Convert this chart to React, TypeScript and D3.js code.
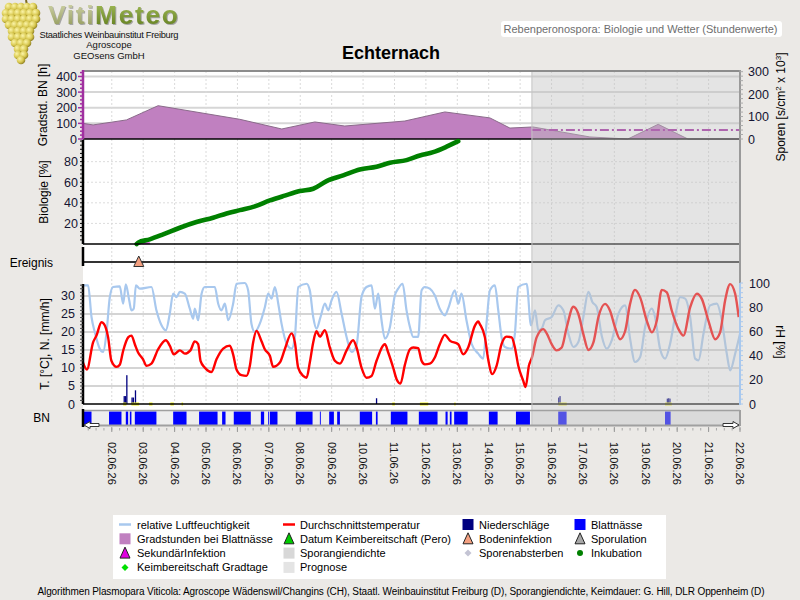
import React from 'react';
import * as d3 from 'd3';

// all series are keyed by hours since 01.06.26 00:00
const gradstunden: [number, number][] = [
  [2, 100], [9.7, 90], [35.2, 122], [59.4, 213], [121.8, 126], [153.9, 64], [179.1, 109],
  [202, 83], [247.9, 115], [278.5, 173], [312.9, 135], [328.2, 70], [345.8, 77],
  [389.3, 13], [418.3, 0], [441.5, 94], [464.2, 0], [504, 0]
];

const sporangienDichte: [number, number][] = [[345, 40], [504, 40]];

const inkubation: [number, number][] = [
  [43, 0], [44.1, 1.3], [53, 4.5], [63.2, 9.3], [76, 15.8], [88.7, 21.3], [101.4, 25.5],
  [111.7, 29.7], [121.8, 32.9], [133.3, 36.5], [144.8, 42.3], [156.2, 47], [167.7, 51.4],
  [177.9, 53.7], [188.1, 61.1], [200.8, 66.6], [213.5, 72.4], [226.3, 75], [236.5, 78.9],
  [249.2, 81.5], [259.4, 86], [269.6, 89.2], [279.8, 94.5], [288.7, 99.9]
];

const sekundaerInfektion: [number, number][] = [[43, 0.7], [53, 0.7]];

const bodeninfektion = [44.6];

const temperatur: [number, number][] = [
  [2, 11.5], [5, 9.6], [9.7, 17.1], [12.3, 19], [16.1, 22.7], [17.9, 22.3], [21.2, 18.5],
  [23.7, 12], [27.6, 10.3], [30.1, 10.9], [32.7, 14.8], [36.5, 18.5], [39, 19], [41.6, 16.6],
  [44.1, 14.3], [47.9, 12.4], [50.5, 10.6], [54.3, 11.2], [59.4, 15.2], [65.3, 17.7],
  [68.3, 16.2], [71.4, 13.8], [76, 14.9], [79.8, 14], [84.1, 14.9], [87.4, 17.4], [90, 16.6],
  [91.8, 12], [95.1, 10.1], [100.2, 8.9], [104, 12.4], [109.1, 15.4], [114.2, 16.2],
  [116.7, 13.8], [119.3, 9.6], [123.1, 8], [126.9, 7.8], [129.5, 10.6], [132, 17.1],
  [134.6, 20.3], [138.4, 17.4], [140.9, 15.2], [144.8, 13.4], [147.3, 10.3], [152.4, 11.5],
  [156.2, 15.2], [161.3, 19.6], [163.9, 17.1], [166.4, 10.1], [170.2, 7.8], [172.8, 7.3],
  [175.3, 11.5], [177.9, 17.1], [180.4, 20.2], [183, 18.7], [186.8, 20.5], [190.6, 15.7],
  [194.4, 12], [198.3, 11.2], [203.4, 14.9], [208.4, 17.7], [211, 15.7], [214.8, 10.1],
  [218.6, 7.3], [222.5, 7.8], [226.3, 12], [232.7, 16.6], [235.2, 14.3], [239, 10.1],
  [241.6, 6.9], [244.6, 5.7], [247.9, 10.8], [251.8, 15.2], [254.3, 15.7], [258.1, 15.5],
  [260.7, 12], [263.2, 11], [267, 11.2], [270.8, 12.9], [274.6, 16.6], [278.5, 19.2],
  [282.3, 17.6], [288.7, 16.6], [292.5, 13.8], [296.3, 15.7], [301.4, 21.7], [304, 22.9],
  [305.2, 22.2], [309.1, 18.5], [311.6, 12.4], [314.7, 8.3], [318, 10.6], [321.8, 16.6],
  [325.6, 18.7], [329.5, 18.5], [332, 15.7], [334.6, 10.6], [338.4, 6.4], [340.2, 4.7],
  [342.7, 10.6], [345, 12.9], [348.6, 18.5], [353.7, 20.8], [356.3, 19.6], [360.1, 16.6],
  [363.9, 14.9], [367.8, 15.7], [371.6, 21.3], [376.7, 27], [380.5, 25], [384.3, 19.4],
  [388.2, 15], [392, 17.1], [395.8, 24.1], [400.9, 27.8], [404.7, 25.9], [408.5, 21.3],
  [412.4, 18], [416.2, 20.2], [420, 27.8], [423.8, 31.7], [427.7, 29.6], [432.8, 23.1],
  [436.6, 19.9], [440.4, 23.1], [444.2, 31.7], [448.1, 31], [451.9, 25.9], [457, 20.8],
  [460.8, 19], [465.9, 26.8], [471, 30.6], [474.8, 29.2], [479.9, 23.1], [485, 18],
  [488.8, 19.9], [492.6, 28.7], [496.5, 33.3], [500.3, 30.6], [503, 24.1]
];

const feuchte: [number, number][] = [
  [2, 98.1], [5.9, 98], [8.5, 71.9], [11, 59.5], [14.8, 45.7], [17.4, 43], [19.9, 58.1],
  [22.5, 88.4], [25, 96.7], [30.1, 97.2], [32.7, 82.9], [34.7, 98.9], [37.3, 85.7], [39, 77.4],
  [40.8, 78.8], [42.4, 98.1], [45.4, 95.3], [54.3, 96.7], [58.1, 77.4], [62, 65], [65.3, 60.9],
  [68.3, 74.6], [70.9, 91.2], [73.5, 88.4], [76, 92.6], [79.8, 91.2], [83.6, 78.8], [86.2, 70.5],
  [87.4, 78.8], [90, 69.2], [92.6, 91.2], [95.1, 96.7], [102.7, 96.7], [105.3, 82.9],
  [107.8, 77.4], [110.4, 82.9], [113, 69.2], [116.7, 82.9], [119.3, 99.4], [125.6, 100],
  [128.2, 93.9], [130.7, 66.4], [133.3, 59.5], [137.1, 66.4], [141, 80.2], [143.5, 91.2],
  [146.1, 87.1], [148.6, 96.7], [151.2, 82.9], [153.7, 66.4], [157.6, 49.8], [161.4, 45.7],
  [163.9, 55.4], [166.5, 96.7], [172.8, 99.4], [175.3, 93.9], [177.9, 71.9], [180.4, 62.3],
  [183.5, 71.9], [186.8, 82.9], [189.4, 77.4], [191.9, 85.7], [195.7, 92.6], [199.6, 74.6],
  [203.4, 55.4], [207.2, 43], [211, 48.5], [214.8, 88.4], [218.6, 96.7], [222.5, 98.1],
  [225, 78.8], [227.6, 91.2], [230.1, 69.2], [232.7, 54], [236.5, 63.4], [240.3, 89.8],
  [242.8, 95.3], [246.2, 99.4], [249.2, 77.4], [251.8, 63.6], [254.3, 55.4], [258.1, 55.4],
  [260.7, 93.9], [263.2, 96.7], [267, 95.3], [270.8, 89.8], [274.6, 78.8], [278.5, 73.3],
  [281, 78.8], [286.1, 93.9], [288.7, 82.9], [291.2, 91.2], [295, 69.2], [298.9, 49.8],
  [304, 41.6], [307.8, 37.5], [310.3, 66.4], [312.9, 93.9], [316.7, 98.1], [319.3, 77.4],
  [321.8, 55.4], [324.4, 47.1], [329.5, 45.7], [332, 58.1], [334.6, 96.7], [341, 99.4],
  [344.3, 65], [347.4, 77.4], [349.9, 60.9], [352.5, 62.3], [355, 69.2], [360.1, 71.9],
  [365.2, 81.5], [369, 77.4], [372.9, 58.1], [376.7, 47.1], [380.5, 51.2], [384.3, 71.9],
  [388.2, 92.6], [391.2, 84.3], [394.5, 80.2], [398.3, 56.7], [402.2, 45.7], [406, 52.6],
  [411.1, 74.6], [416.2, 81.5], [420, 54], [423.8, 34.7], [427.7, 38.8], [431.5, 63.6],
  [436.6, 78.8], [439.1, 71.9], [442.9, 45.7], [446.8, 37.5], [450.6, 49.8], [454.4, 71.9],
  [458.3, 88.4], [462.1, 87.1], [465.9, 71.9], [469.7, 37.5], [472.3, 36.1], [476.1, 58.1],
  [481.2, 81.5], [486.3, 82.9], [489.6, 71.9], [493.9, 41.6], [496.5, 27.8], [500.3, 41.6],
  [504, 58.1]
];

// [hour, mm/h]
const niederschlag: [number, number][] = [
  [33, 2.2], [34, 2.2], [35, 8], [39, 1.8], [40, 1.8], [41.6, 3.8], [225.8, 1.6],
  [365, 1.8], [366, 2.2], [448, 1.5], [449, 1.6], [450, 1.5]
];

// [from hour, to hour]
const sporenMarken: [number, number][] = [
  [32.7, 35.2], [39, 44.9], [52.5, 55.1], [68.8, 71.4], [77.3, 78.5], [238.3, 240.3],
  [259.4, 265.8], [285.7, 286.7], [365.2, 371.6], [446.7, 451.9]
];

const blattnaesse: [number, number][] = [
  [2, 8.5], [21.9, 31.4], [34.7, 36.5], [37.8, 39], [41.6, 58.1], [70.9, 81.1], [90.7, 104.8],
  [108.3, 110.9], [117.2, 130.2], [137.9, 140.4], [143.5, 144.2], [144.8, 150.6],
  [164.6, 177.4], [183, 183.7], [190.1, 193.7], [196.2, 198.3], [213.5, 222.9],
  [225.8, 227.1], [237.2, 249.9], [258.6, 272.9], [279, 280.6], [282.3, 283.6],
  [285.6, 295.9], [312.1, 318.8], [332.8, 343.5], [365.1, 371.5], [446.7, 451]
];

const prognoseAb = 345;

const gradTicks = [0, 100, 200, 300, 400];
const sporTicks = [0, 100, 200, 300];
const bioTicks = [20, 40, 60, 80];
const tempTicks = [0, 5, 10, 15, 20, 25, 30];
const rhTicks = [0, 20, 40, 60, 80, 100];

const legendItems = [
  { label: 'relative Luftfeuchtigkeit', kind: 'line', color: '#a8c8ee' },
  { label: 'Durchschnittstemperatur', kind: 'line', color: '#ff0000' },
  { label: 'Niederschläge', kind: 'square', color: '#000080' },
  { label: 'Blattnässe', kind: 'square', color: '#0000ff' },
  { label: 'Gradstunden bei Blattnässe', kind: 'square', color: '#c080c0' },
  { label: 'Datum Keimbereitschaft (Pero)', kind: 'tri', color: '#00cc00' },
  { label: 'Bodeninfektion', kind: 'tri', color: '#f4a080' },
  { label: 'Sporulation', kind: 'tri', color: '#a8a8a8' },
  { label: 'SekundärInfektion', kind: 'tri', color: '#e000e0' },
  { label: 'Sporangiendichte', kind: 'square', color: '#d8d8d8' },
  { label: 'Sporenabsterben', kind: 'diamond', color: '#c4c4d4' },
  { label: 'Inkubation', kind: 'dot', color: '#008000' },
  { label: 'Keimbereitschaft Gradtage', kind: 'diamond', color: '#00e000' },
  { label: 'Prognose', kind: 'square', color: '#e4e4e4' }
];

const FONT = "'Liberation Sans', Arial, Helvetica, sans-serif";
const BG = '#ebe9e6';

const base = new Date(2026, 5, 1, 0, 0, 0);
const at = (h: number) => new Date(+base + h * 3600e3);

const L = 83, R = 740;

export default function App() {
  const x = d3.scaleTime().domain([at(2), at(504)]).range([L, R]);
  const xh = (h: number) => x(at(h));

  const yGrad = d3.scaleLinear().domain([0, 435]).range([139, 71]);
  const ySpor = d3.scaleLinear().domain([0, 303]).range([139, 71]);
  const yBio = d3.scaleLinear().domain([0, 102]).range([244, 139]);
  const yT = d3.scaleLinear().domain([0, 33.6]).range([404, 283]);
  const yRH = d3.scaleLinear().domain([0, 100]).range([404, 283]);

  const days = d3.timeDay.range(at(24), at(505));
  const sixHours = d3.timeHour.every(6)!.range(at(3), at(505));
  const fmt = d3.timeFormat('%d.%m.%y');

  const gradArea = d3.area<[number, number]>()
    .x(d => xh(d[0])).y0(yGrad(0)).y1(d => yGrad(d[1]));
  const gradLine = d3.line<[number, number]>().x(d => xh(d[0])).y(d => yGrad(d[1]));
  const sporLine = d3.line<[number, number]>().x(d => xh(d[0])).y(d => ySpor(d[1]));
  const flatBio = d3.line<[number, number]>().x(d => xh(d[0])).y(d => yBio(d[1]));
  const bioLine = d3.line<[number, number]>()
    .x(d => xh(d[0])).y(d => yBio(d[1])).curve(d3.curveMonotoneX);
  const tLine = d3.line<[number, number]>()
    .x(d => xh(d[0])).y(d => yT(d[1])).curve(d3.curveMonotoneX);
  const rhLine = d3.line<[number, number]>()
    .x(d => xh(d[0])).y(d => yRH(d[1])).curve(d3.curveMonotoneX);

  const xp = xh(prognoseAb);

  const minor = (lo: number, hi: number, step: number) => d3.range(lo, hi + 1e-6, step);

  // grape cluster for the logo: [row y, first x, count]
  const grapeRows = [[7, 9, 5], [13, 6, 6], [19, 6, 6], [25, 9, 5], [31, 12, 4], [37, 12, 4], [43, 15, 3], [49, 18, 2], [55, 18, 2], [60, 21, 1]];
  const grapes: { cx: number; cy: number }[] = [];
  grapeRows.forEach(([cy, x0, n]) => {
    for (let i = 0; i < n; i++) grapes.push({ cx: x0 + i * 6, cy });
  });

  return (
    <svg width={800} height={600} style={{ position: 'absolute', left: 0, top: 0, fontFamily: FONT }}>
      <defs>
        <radialGradient id="grape" cx="0.35" cy="0.35" r="0.7">
          <stop offset="0" stopColor="#fbf4a8" />
          <stop offset="0.6" stopColor="#d8c850" />
          <stop offset="1" stopColor="#8c7c20" />
        </radialGradient>
        <linearGradient id="viti" x1="0" y1="0" x2="0" y2="1">
          <stop offset="0" stopColor="#d6d9b0" />
          <stop offset="1" stopColor="#8e9656" />
        </linearGradient>
        <linearGradient id="meteo" x1="0" y1="0" x2="0" y2="1">
          <stop offset="0" stopColor="#a9c25e" />
          <stop offset="1" stopColor="#5d7a1a" />
        </linearGradient>
        <filter id="logoShadow" x="-5%" y="-20%" width="110%" height="140%">
          <feDropShadow dx="1" dy="1" stdDeviation="0.6" floodColor="#777" floodOpacity="0.6" />
        </filter>
      </defs>
      <rect width={800} height={600} fill={BG} />

      {/* logo */}
      <path d="M26,0 L27,5" stroke="#7a6a20" strokeWidth={2} />
      {grapes.map((g, i) => (
        <circle key={i} cx={g.cx} cy={g.cy} r={4.3} fill="url(#grape)" />
      ))}
      <text x={48} y={23.5} fontSize={26.5} fontWeight="bold" textLength={130} filter="url(#logoShadow)">
        <tspan fill="url(#viti)">Viti</tspan>
        <tspan fill="url(#meteo)">Meteo</tspan>
      </text>
      <text x={109} y={37.5} fontSize={9.3} textAnchor="middle" textLength={139} fill="#111">Staatliches Weinbauinstitut Freiburg</text>
      <text x={109} y={48} fontSize={9.5} textAnchor="middle" fill="#111">Agroscope</text>
      <text x={109} y={58.5} fontSize={9.5} textAnchor="middle" fill="#111">GEOsens GmbH</text>

      <rect x={501} y={21} width={281} height={16} rx={3} fill="#fff" />
      <text x={503.5} y={32.5} fontSize={11} fill="#6e6e6e" textLength={274}>Rebenperonospora: Biologie und Wetter (Stundenwerte)</text>

      <text x={391} y={59} fontSize={18} fontWeight="bold" textAnchor="middle" fill="#000">Echternach</text>

      {/* plot backgrounds */}
      <rect x={L} y={71} width={R - L} height={340} fill="#fff" />
      <rect x={L} y={411} width={R - L} height={14} fill="#eeeeee" />

      {/* horizontal grids */}
      {gradTicks.slice(1).map(t => (
        <line key={'gg' + t} x1={L} x2={R} y1={yGrad(t)} y2={yGrad(t)} stroke="#d6d6d6" strokeWidth={2} />
      ))}
      {bioTicks.map(t => (
        <line key={'bg' + t} x1={L} x2={R} y1={yBio(t)} y2={yBio(t)} stroke="#dcdcdc" strokeDasharray="2,2" />
      ))}
      {tempTicks.slice(1).map(t => (
        <line key={'tg' + t} x1={L} x2={R} y1={yT(t)} y2={yT(t)} stroke="#d4d4d4" strokeWidth={2} />
      ))}
      {/* day grid */}
      {days.map(d => (
        <line key={'vg' + +d} x1={x(d)} x2={x(d)} y1={71} y2={404} stroke="#dadada" strokeDasharray="2,2" />
      ))}

      {/* Gradstunden panel */}
      <path d={gradArea(gradstunden)!} fill="#c080c0" />
      <path d={gradLine(gradstunden)!} fill="none" stroke="#8a6a8a" strokeWidth={1} />
      <path d={sporLine(sporangienDichte)!} fill="none" stroke="#a020a0" strokeWidth={2} strokeDasharray="9,3,2,3" />
      <line x1={L} x2={R} y1={139} y2={139} stroke="#000" strokeWidth={1.5} />

      {/* Biologie panel */}
      <path d={flatBio(sekundaerInfektion)!} fill="none" stroke="#e040e0" strokeWidth={2} />
      <path d={bioLine(inkubation)!} fill="none" stroke="#008000" strokeWidth={4.6} strokeLinecap="round" />
      <line x1={L} x2={R} y1={244} y2={244} stroke="#000" strokeWidth={1.5} />

      {/* Ereignis */}
      <line x1={L} x2={R} y1={262} y2={262} stroke="#333" strokeWidth={2} />
      {bodeninfektion.map(h => (
        <path key={h} d={`M${xh(h)},256 L${xh(h) + 5},266.5 L${xh(h) - 5},266.5 Z`} fill="#f4a080" stroke="#333" strokeWidth={1} />
      ))}

      {/* weather panel */}
      <path d={rhLine(feuchte)!} fill="none" stroke="#a8c8ee" strokeWidth={2.2} />
      <path d={tLine(temperatur)!} fill="none" stroke="#ff0000" strokeWidth={2.4} />
      {niederschlag.map(([h, v]) => (
        <rect key={'n' + h} x={xh(h)} y={yT(v)} width={Math.max(1.3, xh(h + 1) - xh(h))} height={yT(0) - yT(v)} fill="#000080" />
      ))}
      {sporenMarken.map(([a, b]) => (
        <rect key={'s' + a} x={xh(a)} y={402.5} width={xh(b) - xh(a)} height={3} fill="#f0f020" />
      ))}
      <line x1={L} x2={R} y1={404} y2={404} stroke="#000" strokeWidth={1.5} />

      {/* Blattnässe strip */}
      {blattnaesse.map(([a, b]) => (
        <rect key={'b' + a} x={xh(a)} y={411.5} width={xh(b) - xh(a)} height={13.5} fill="#0000ff" />
      ))}

      {/* forecast overlay */}
      <rect x={xp} y={71} width={R - xp} height={355} fill="#c0c0c0" opacity={0.43} />
      <line x1={xp} x2={xp} y1={71} y2={426} stroke="#c4c4c4" strokeWidth={1} />

      {/* frames */}
      <line x1={L} x2={R} y1={410.5} y2={410.5} stroke="#a0a0a0" strokeWidth={1.5} />
      <line x1={L} x2={R} y1={425.5} y2={425.5} stroke="#a0a0a0" strokeWidth={2} />
      <line x1={L - 1} x2={R + 1} y1={71} y2={71} stroke="#8c8c8c" strokeWidth={2} />
      <line x1={R} x2={R} y1={70} y2={283} stroke="#9a9a9a" strokeWidth={2} />
      <line x1={R} x2={R} y1={283} y2={405} stroke="#a8c8ee" strokeWidth={2} />
      <line x1={R} x2={R} y1={410} y2={426} stroke="#a0a0a0" strokeWidth={2} />

      {/* left axes */}
      <line x1={L} x2={L} y1={70} y2={139} stroke="#a030a0" strokeWidth={2.5} />
      {minor(0, 425, 25).map(v => (
        <line key={'gm' + v} x1={L - (v % 100 === 0 ? 5 : 3)} x2={L} y1={yGrad(v)} y2={yGrad(v)} stroke="#a030a0" strokeWidth={1.5} />
      ))}
      {gradTicks.map(t => (
        <text key={'gl' + t} x={77} y={yGrad(t) + 4.5} fontSize={12.5} textAnchor="end" fill="#141432">{t}</text>
      ))}

      <line x1={L} x2={L} y1={140} y2={244} stroke="#000" strokeWidth={2.5} />
      {minor(4, 100, 4).map(v => (
        <line key={'bm' + v} x1={L - 3} x2={L} y1={yBio(v)} y2={yBio(v)} stroke="#000" strokeWidth={1} />
      ))}
      {bioTicks.map(t => (
        <text key={'bl' + t} x={78} y={yBio(t) + 4.5} fontSize={12.5} textAnchor="end" fill="#141432">{t}</text>
      ))}

      <line x1={L} x2={L} y1={247} y2={266} stroke="#000" strokeWidth={2.5} />

      <line x1={L} x2={L} y1={284} y2={404} stroke="#000" strokeWidth={2.5} />
      {minor(1, 33, 1).map(v => (
        <line key={'tm' + v} x1={L - 3} x2={L} y1={yT(v)} y2={yT(v)} stroke="#444" strokeWidth={1} />
      ))}
      {tempTicks.map(t => (
        <text key={'tl' + t} x={75} y={yT(t) + 4.5} fontSize={12.5} textAnchor="end" fill="#141432">{t}</text>
      ))}

      <line x1={L} x2={L} y1={409} y2={427} stroke="#000" strokeWidth={2.5} />

      {/* right axes */}
      {minor(0, 300, 20).map(v => (
        <line key={'sm' + v} x1={R} x2={R + 3} y1={ySpor(v)} y2={ySpor(v)} stroke="#aaa" strokeWidth={1} />
      ))}
      {sporTicks.map(t => (
        <text key={'sl' + t} x={748} y={ySpor(t) + 4.5} fontSize={12.5} fill="#141432">{t}</text>
      ))}
      {minor(0, 100, 4).map(v => (
        <line key={'rm' + v} x1={R} x2={R + 3} y1={yRH(v)} y2={yRH(v)} stroke="#a8c8ee" strokeWidth={1} />
      ))}
      {rhTicks.map(t => (
        <text key={'rl' + t} x={749} y={yRH(t) + 4.5} fontSize={12.5} fill="#141432">{t}</text>
      ))}

      {/* axis titles */}
      <text transform="translate(47,105) rotate(-90)" fontSize={12} textAnchor="middle" fill="#000">Gradstd. BN [h]</text>
      <text transform="translate(48,192) rotate(-90)" fontSize={12} textAnchor="middle" fill="#000">Biologie [%]</text>
      <text x={53} y={267} fontSize={12} textAnchor="end" fill="#000">Ereignis</text>
      <text transform="translate(49,344) rotate(-90)" fontSize={12} textAnchor="middle" fill="#000">T. [°C], N. [mm/h]</text>
      <text x={50} y={422} fontSize={12} textAnchor="end" fill="#000">BN</text>
      <text transform="translate(785,107) rotate(-90)" fontSize={12} textAnchor="middle" fill="#000">
        Sporen [s/cm<tspan fontSize={8} dy={-4}>2</tspan><tspan dy={4}> x 10</tspan><tspan fontSize={8} dy={-4}>3</tspan><tspan dy={4}>]</tspan>
      </text>
      <text transform="translate(776,342) rotate(90)" fontSize={12} textAnchor="middle" fill="#000">rH [%]</text>

      {/* time axis */}
      {sixHours.map(d => (
        <line key={'xt' + +d} x1={x(d)} x2={x(d)} y1={428} y2={430.5} stroke="#a8a8a8" strokeWidth={1} />
      ))}
      {days.map(d => (
        <g key={'xl' + +d}>
          <line x1={x(d)} x2={x(d)} y1={427} y2={432} stroke="#999" strokeWidth={1} />
          <text transform={`translate(${x(d) - 4},442) rotate(90)`} fontSize={11} fill="#111">{fmt(d)}</text>
        </g>
      ))}
      {/* scroll arrows */}
      <path d="M84,425 L90,421.5 L90,423.5 L99,423.5 L99,426.5 L90,426.5 L90,428.5 Z" fill="#fff" stroke="#333" strokeWidth={1} />
      <path d="M739,425 L733,421.5 L733,423.5 L723,423.5 L723,426.5 L733,426.5 L733,428.5 Z" fill="#fff" stroke="#333" strokeWidth={1} />

      {/* legend */}
      <rect x={113} y={515} width={553} height={64} fill="#fff" />
      {legendItems.map((it, i) => {
        const col = i % 4, row = Math.floor(i / 4);
        const sx = [125, 289, 468, 580][col];
        const tx = [137, 300, 479, 591][col];
        const cy = 524.5 + row * 14.3;
        let sym: React.ReactNode = null;
        if (it.kind === 'line') sym = <line x1={sx - 6} x2={sx + 6} y1={cy} y2={cy} stroke={it.color} strokeWidth={2.5} />;
        else if (it.kind === 'square') sym = <rect x={sx - 5.5} y={cy - 5.5} width={11} height={11} fill={it.color} />;
        else if (it.kind === 'tri') sym = <path d={`M${sx},${cy - 6} L${sx + 5},${cy + 5} L${sx - 5},${cy + 5} Z`} fill={it.color} stroke="#222" strokeWidth={1} />;
        else if (it.kind === 'diamond') sym = <path d={`M${sx},${cy - 3.5} L${sx + 3.5},${cy} L${sx},${cy + 3.5} L${sx - 3.5},${cy} Z`} fill={it.color} />;
        else sym = <circle cx={sx} cy={cy} r={3} fill={it.color} />;
        return (
          <g key={it.label}>
            {sym}
            <text x={tx} y={cy + 4} fontSize={11} fill="#000">{it.label}</text>
          </g>
        );
      })}

      <text x={401} y={594.5} fontSize={10} textAnchor="middle" textLength={727} lengthAdjust="spacing" fill="#000">
        Algorithmen Plasmopara Viticola: Agroscope Wädenswil/Changins (CH), Staatl. Weinbauinstitut Freiburg (D), Sporangiendichte, Keimdauer: G. Hill, DLR Oppenheim (D)
      </text>
    </svg>
  );
}
